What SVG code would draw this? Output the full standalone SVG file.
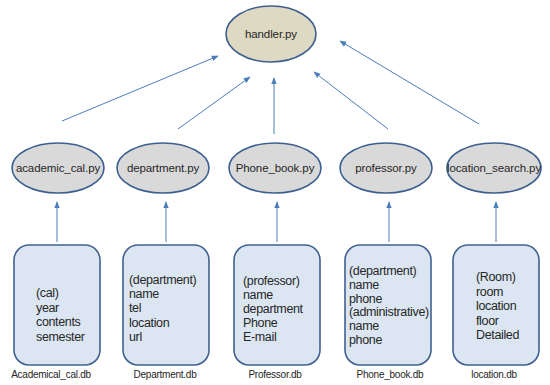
<svg xmlns="http://www.w3.org/2000/svg" width="550" height="385" viewBox="0 0 550 385">
<defs>
<marker id="ah" viewBox="0 0 10 10" refX="9" refY="5" markerWidth="7" markerHeight="7" orient="auto" markerUnits="userSpaceOnUse">
<path d="M0,1 L10,5 L0,9 z" fill="#4a7ebb"/>
</marker>
<style>
text{font-family:"Liberation Sans",Arial,sans-serif;fill:#262626}
.el{font-size:11.5px;text-anchor:middle;letter-spacing:-0.1px}
.bx{font-size:12.5px;letter-spacing:-0.35px}
.lb{font-size:10px;text-anchor:middle;letter-spacing:-0.25px}
.py{fill:#d9d9d9;stroke:#3c5f8f;stroke-width:1.6}
.h{fill:#ddd9c3;stroke:#3c5f8f;stroke-width:1.6}
.db{fill:#dce6f2;stroke:#40618f;stroke-width:1.6}
.c{stroke:#4a7ebb;stroke-width:1;fill:none;marker-end:url(#ah)}
</style>
</defs>
<rect width="550" height="385" fill="#fff"/>
<g id="connectors">
<line class="c" x1="62" y1="121" x2="218" y2="56"/>
<line class="c" x1="178" y1="129" x2="250" y2="77"/>
<line class="c" x1="274" y1="134" x2="274" y2="78"/>
<line class="c" x1="388" y1="129" x2="314" y2="72"/>
<line class="c" x1="479" y1="124" x2="340" y2="41"/>
<line class="c" x1="57" y1="242" x2="57" y2="202"/>
<line class="c" x1="166" y1="242" x2="166" y2="202"/>
<line class="c" x1="277" y1="242" x2="277" y2="202"/>
<line class="c" x1="389" y1="242" x2="389" y2="202"/>
<line class="c" x1="496" y1="242" x2="496" y2="202"/>
</g>
<g id="handler">
<ellipse class="h" cx="271" cy="34" rx="45" ry="28"/>
<text class="el" x="271" y="38">handler.py</text>
</g>
<g id="academic_cal">
<ellipse class="py" cx="58" cy="168" rx="46" ry="25"/>
<text class="el" x="58" y="172">academic_cal.py</text>
</g>
<g id="department">
<ellipse class="py" cx="163" cy="168" rx="46" ry="25"/>
<text class="el" x="163" y="172">department.py</text>
</g>
<g id="phone_book">
<ellipse class="py" cx="275" cy="168" rx="46" ry="25"/>
<text class="el" x="275" y="172">Phone_book.py</text>
</g>
<g id="professor">
<ellipse class="py" cx="386" cy="168" rx="46" ry="25"/>
<text class="el" x="386" y="172">professor.py</text>
</g>
<g id="location_search">
<ellipse class="py" cx="494" cy="168" rx="47" ry="25"/>
<text class="el" x="494" y="172">location_search.py</text>
</g>
<g id="academical_cal_db">
<rect class="db" x="14" y="245" width="86" height="120" rx="15"/>
<text class="bx" x="36" y="297">(cal)</text>
<text class="bx" x="36" y="311.5">year</text>
<text class="bx" x="36" y="326">contents</text>
<text class="bx" x="36" y="340.5">semester</text>
<text class="lb" x="51" y="378">Academical_cal.db</text>
</g>
<g id="department_db">
<rect class="db" x="123" y="245" width="86" height="120" rx="15"/>
<text class="bx" x="129" y="284">(department)</text>
<text class="bx" x="129" y="298.2">name</text>
<text class="bx" x="129" y="312.4">tel</text>
<text class="bx" x="129" y="326.6">location</text>
<text class="bx" x="129" y="340.8">url</text>
<text class="lb" x="165" y="378">Department.db</text>
</g>
<g id="professor_db">
<rect class="db" x="234" y="245" width="86" height="120" rx="15"/>
<text class="bx" x="243" y="285">(professor)</text>
<text class="bx" x="243" y="299">name</text>
<text class="bx" x="243" y="313">department</text>
<text class="bx" x="243" y="327">Phone</text>
<text class="bx" x="243" y="341">E-mail</text>
<text class="lb" x="275" y="378">Professor.db</text>
</g>
<g id="phone_book_db">
<rect class="db" x="345" y="245" width="86" height="120" rx="15"/>
<text class="bx" x="349" y="275">(department)</text>
<text class="bx" x="349" y="288.8">name</text>
<text class="bx" x="349" y="302.6">phone</text>
<text class="bx" x="349" y="316.4">(administrative)</text>
<text class="bx" x="349" y="330.2">name</text>
<text class="bx" x="349" y="344">phone</text>
<text class="lb" x="390" y="378">Phone_book.db</text>
</g>
<g id="location_db">
<rect class="db" x="453" y="245" width="86" height="120" rx="15"/>
<text class="bx" x="476" y="281">(Room)</text>
<text class="bx" x="476" y="295.5">room</text>
<text class="bx" x="476" y="310">location</text>
<text class="bx" x="476" y="324.5">floor</text>
<text class="bx" x="476" y="339">Detailed</text>
<text class="lb" x="494" y="378">location.db</text>
</g>
</svg>
